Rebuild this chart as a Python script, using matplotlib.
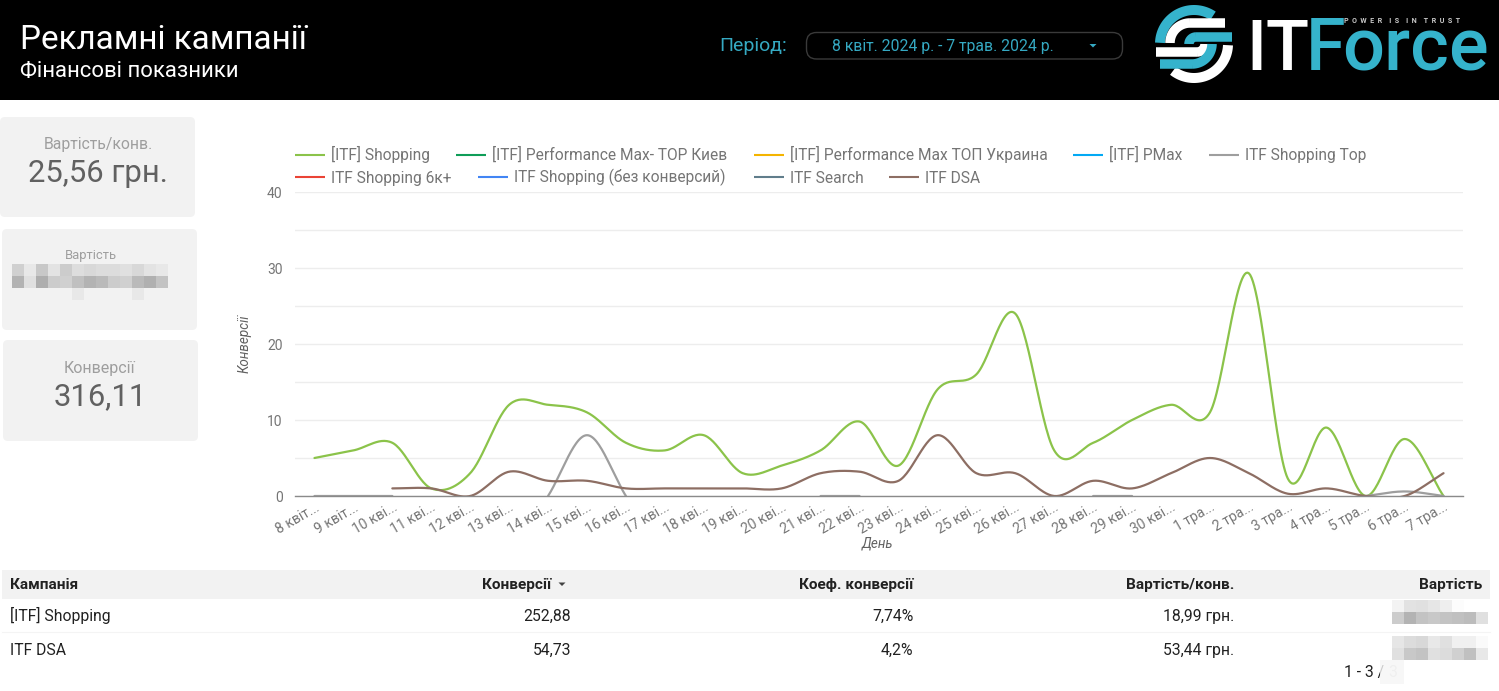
import numpy as np
import matplotlib
matplotlib.use("Agg")
import matplotlib.pyplot as plt
from matplotlib.patches import FancyBboxPatch, Rectangle, Polygon
from matplotlib.transforms import ScaledTranslation

plt.rcParams['font.family'] = ['Roboto', 'DejaVu Sans']

nan = float('nan')
days = ["8 квіт...", "9 квіт...", "10 кві...", "11 кві...", "12 кві...", "13 кві...", "14 кві...", "15 кві...",
        "16 кві...", "17 кві...", "18 кві...", "19 кві...", "20 кві...", "21 кві...", "22 кві...", "23 кві...",
        "24 кві...", "25 кві...", "26 кві...", "27 кві...", "28 кві...", "29 кві...", "30 кві...", "1 тра...",
        "2 тра...", "3 тра...", "4 тра...", "5 тра...", "6 тра...", "7 тра..."]
shopping = [5, 6, 7, 1, 3, 12, 12, 11, 7, 6, 8, 3, 4, 6, 9.8, 4, 14, 16, 24, 6, 7, 10, 12, 11, 29.3, 2.3, 9, 0, 7.5, 0]
dsa = [nan, nan, 1, 1, 0, 3.2, 2, 2, 1, 1, 1, 1, 1, 3, 3.2, 2, 8, 3, 3, 0, 2, 1, 3, 5, 3, 0.3, 1, 0, 0, 3]
shopping_top = [0, 0, 0, nan, nan, nan, 0, 8, 0, nan, nan, nan, nan, 0, 0, nan, nan, nan, nan, nan,
                0, 0, nan, nan, nan, nan, nan, 0, 0.6, 0]

legend_names = ["[ITF] Shopping", "[ITF] Performance Max- TOP Киев", "[ITF] Performance Max ТОП Украина",
                "[ITF] PMax", "ITF Shopping Top", "ITF Shopping 6к+", "ITF Shopping (без конверсий)",
                "ITF Search", "ITF DSA"]
legend_colors = ["#8bc34a", "#0f9d58", "#f4b400", "#03a9f4", "#9e9e9e", "#ea4335", "#4285f4", "#607d8b", "#8d6e63"]
legend_x = [295, 456, 754, 1073, 1209, 295, 478, 754, 889]
legend_y = [155, 155, 155, 155, 155, 177, 177, 177, 177]

table_head = ["Кампанія", "Конверсії", "Коеф. конверсії", "Вартість/конв.", "Вартість"]
table_rows = [["[ITF] Shopping", "252,88", "7,74%", "18,99 грн."],
              ["ITF DSA", "54,73", "4,2%", "53,44 грн."]]

W, H = 1499, 691
fig = plt.figure(figsize=(W / 100, H / 100), dpi=100, facecolor='white')
bg = fig.add_axes([0, 0, 1, 1], zorder=0)
bg.set_xlim(0, W)
bg.set_ylim(H, 0)
bg.axis('off')


def T(x, y, s, px, color, ha='left', va='baseline', **kw):
    return bg.text(x, y, s, fontsize=px * 0.72, color=color, ha=ha, va=va, **kw)


def card(x0, y0, x1, y1):
    bg.add_patch(FancyBboxPatch((x0 + 4, y0 + 4), x1 - x0 - 8, y1 - y0 - 8, boxstyle="round,pad=4,rounding_size=5",
                                fc='#f2f2f2', ec='none'))


def blur(x, y, rows, step=12):
    a = np.array(rows, dtype=float) / 255
    bg.imshow(a, cmap='gray', vmin=0, vmax=1, interpolation='nearest', aspect='auto',
              extent=(x, x + a.shape[1] * step, y + a.shape[0] * step, y), zorder=3)


# header
bg.add_patch(Rectangle((0, 0), W, 100, fc='black', ec='none'))
T(20, 49, "Рекламні кампанії", 33.3, 'white')
T(20, 77, "Фінансові показники", 22.2, 'white')
T(719, 51, "Період:", 19.5, '#35a9c2')
bg.add_patch(FancyBboxPatch((806.5, 32.5), 316, 26.5, boxstyle="round,pad=0,rounding_size=10", fc='black',
                            ec='#3a3a3a', lw=1))
T(943, 50.5, "8 квіт. 2024 р. - 7 трав. 2024 р.", 15.7, '#35a9c2', ha='center')
bg.add_patch(Polygon([[1089.5, 44], [1096.5, 44], [1093, 47.5]], fc='#35a9c2', ec='none'))

# logo
CY = '#35b3cc'


def arc(cx, cy, r, a0, a1, color, lw=10):
    t = np.radians(np.linspace(a0, a1, 60))
    bg.plot(cx + r * np.cos(t), cy - r * np.sin(t), color=color, lw=lw * 0.72, solid_capstyle='butt', zorder=2)


def stripe(xs, ys, color, lw=9.5):
    bg.plot(xs, ys, color=color, lw=lw * 0.72, solid_capstyle='butt', zorder=2)


arc(1194, 44, 34, 56, 178, CY)
arc(1194, 44, 34, 232, 358, 'white')
stripe([1225, 1190], [23, 23], 'white')
arc(1190, 43, 20, 90, 180, 'white', 9.5)
stripe([1232, 1196], [37, 37], CY)
arc(1196, 44, 7, 90, 180, CY, 9.5)
stripe([1156, 1197], [52, 52], 'white')
arc(1197, 44, 8, 270, 360, 'white', 9.5)
stripe([1160, 1192], [64, 64], CY)
arc(1192, 44, 20, 270, 360, CY, 9.5)
T(1246, 70, "IT", 71, 'white', fontweight='medium')
T(1306, 70, "F", 72, CY, fontweight='medium')
T(1342, 70, "orce", 74, CY, fontweight='medium')
T(1344, 22.5, "P  O  W  E  R    I  S    I  N    T  R  U  S  T", 7.2, '#c8c8c8', fontweight='bold')

# scorecards
card(0, 117, 195, 217)
card(2, 229, 197, 330)
card(3, 340, 198, 441)
T(98, 149, "Вартість/конв.", 15.7, '#9e9e9e', ha='center')
T(98, 182, "25,56 грн.", 31, '#616161', ha='center')
T(91, 259, "Вартість", 13, '#9e9e9e', ha='center')
T(100, 372.5, "Конверсії", 16, '#9e9e9e', ha='center')
T(100, 405, "316,11", 31, '#616161', ha='center')
blur(12, 264, [[208, 232, 200, 228, 204, 221, 216, 220, 220, 224, 216, 228, 232],
               [180, 224, 174, 204, 208, 192, 180, 186, 204, 208, 186, 176, 196],
               [242, 242, 242, 242, 242, 232, 242, 242, 242, 242, 232, 242, 242]])

# legend
for name, col, lx, ly, dy in zip(legend_names, legend_colors, legend_x, legend_y, [4.8] * 5 + [5.5] * 4):
    bg.plot([lx, lx + 30], [ly, ly], color=col, lw=1.5, solid_capstyle='butt')
    T(lx + 36.5, ly + dy, name, 15.55, '#757575')

# table
bg.add_patch(Rectangle((2, 570), 1488, 28.5, fc='#f2f2f2', ec='none'))
bg.plot([2, 1490], [632, 632], color='#f4f4f4', lw=0.8)
col_right = [None, 551, 913, 1234, 1482]
T(10, 589, table_head[0], 15.4, '#212121', fontweight='bold')
for h, xr in zip(table_head[1:], col_right[1:]):
    T(xr, 589, h, 15.4, '#212121', ha='right', fontweight='bold')
bg.add_patch(Polygon([[558.5, 582.5], [565.5, 582.5], [562, 586]], fc='#424242', ec='none'))
val_right = [571, 913.5, 1234]
for r, yy in zip(table_rows, [621, 655]):
    T(10, yy, r[0], 15.7, '#212121')
    for v, xr in zip(r[1:], val_right):
        T(xr, yy, v, 15.7, '#212121', ha='right')
blur(1392, 600, [[244, 226, 224, 230, 238, 252, 255, 255],
                 [204, 180, 196, 200, 196, 192, 188, 224]])
blur(1392, 636, [[230, 220, 216, 232, 224, 240, 240, 250],
                 [224, 200, 196, 224, 220, 208, 192, 232]])
T(1344, 677, "1 - 3 / ", 15.7, '#212121')
T(1388, 677, "3", 15.7, '#d4d4d4')
bg.add_patch(Rectangle((1380, 660), 24, 24, fc='#f6f6f6', ec='none', alpha=0.8, zorder=3))
bg.set_xlim(0, W)
bg.set_ylim(H, 0)

# chart
L, R, Y40, Y0 = 295, 1463, 192, 496
ax = fig.add_axes([L / W, 1 - Y0 / H, (R - L) / W, (Y0 - Y40) / H], zorder=2)
ax.patch.set_alpha(0)
ax.set_xlim(-0.5, 29.5)
ax.set_ylim(0, 40)


def smooth(values, n=30):
    """Catmull-Rom drawing of each unbroken run of a series."""
    v = np.array(values, dtype=float)
    xs, ys = [], []
    i = 0
    while i < len(v):
        if np.isnan(v[i]):
            i += 1
            continue
        j = i
        while j + 1 < len(v) and not np.isnan(v[j + 1]):
            j += 1
        seg = v[i:j + 1]
        m = np.zeros(len(seg))
        if len(seg) > 2:
            m[1:-1] = (seg[2:] - seg[:-2]) / 2
        m[0] = seg[1] - seg[0]
        m[-1] = seg[-1] - seg[-2]
        for k in range(len(seg) - 1):
            t = np.linspace(0, 1, n)
            h = ((2 * t ** 3 - 3 * t ** 2 + 1) * seg[k] + (t ** 3 - 2 * t ** 2 + t) * m[k] +
                 (-2 * t ** 3 + 3 * t ** 2) * seg[k + 1] + (t ** 3 - t ** 2) * m[k + 1])
            xs.extend(i + k + t)
            ys.extend(h)
        xs.append(nan)
        ys.append(nan)
        i = j + 1
    return xs, ys


ax.set_axisbelow(True)
ax.set_yticks(range(0, 41, 10))
ax.set_yticks(range(5, 40, 10), minor=True)
ax.grid(True, which='both', axis='y', color='#ededed', lw=1)
ax.grid(False, axis='x')
ax.set_xticks(range(len(days)))
ax.set_xticklabels(days, rotation=30, ha='right', rotation_mode='anchor', fontsize=10, color='#757575')
off = ScaledTranslation(-5 / 100, 0, fig.dpi_scale_trans)
for lab in ax.get_xticklabels():
    lab.set_transform(lab.get_transform() + off)
ax.tick_params(axis='x', length=0, pad=3)
ax.tick_params(axis='y', which='both', length=0, pad=9, labelsize=10, labelcolor='#757575')
for s in ['top', 'left', 'right']:
    ax.spines[s].set_visible(False)
ax.spines['bottom'].set_color('#8a8a8a')
ax.spines['bottom'].set_linewidth(1)

for vals, idx in [(shopping, 0), (shopping_top, 4), (dsa, 8)]:
    x, y = smooth(vals)
    ax.plot(x, y, color=legend_colors[idx], lw=1.6, solid_capstyle='round', clip_on=True)

T(245, 344, "Конверсії", 13.5, '#616161', ha='center', va='center', rotation=90, fontstyle='italic', zorder=5)
T(878, 544, "День", 13.5, '#616161', ha='center', va='center', fontstyle='italic', zorder=5)

fig.savefig("out.png", dpi=100, facecolor='white')
